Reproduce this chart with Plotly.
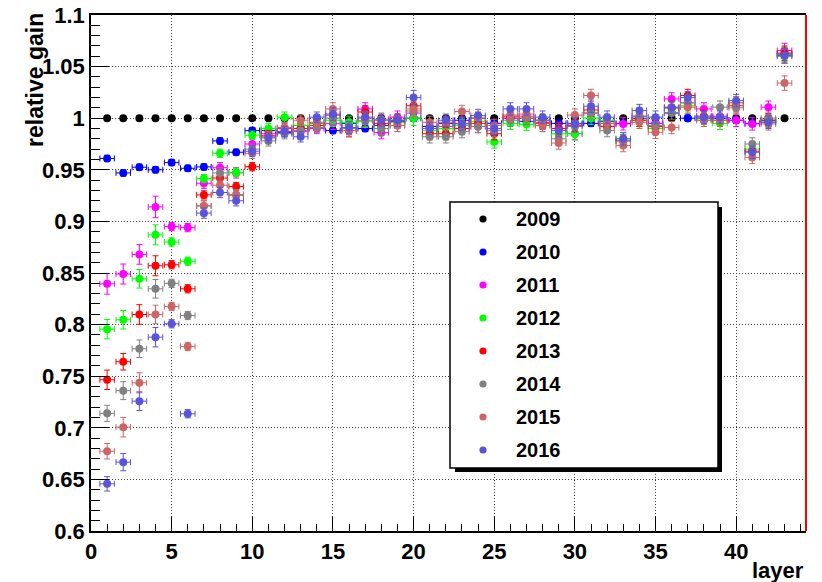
import plotly.graph_objects as go

# ---------------- data ----------------
layers = list(range(1, 44))
years = ["2009", "2010", "2011", "2012", "2013", "2014", "2015", "2016"]

gain_2009 = [1.0, 1.0, 1.0, 1.0, 1.0, 1.0, 1.0, 1.0, 1.0, 1.0,
             1.0, 1.0, 1.0, 1.0, 1.0, 1.0, 1.0, 1.0, 1.0, 1.0,
             1.0, 1.0, 1.0, 1.0, 1.0, 1.0, 1.0, 1.0, 1.0, 1.0,
             1.0, 1.0, 1.0, 1.0, 1.0, 1.0, 1.0, 1.0, 1.0, 1.0,
             1.0, 1.0, 1.0]
gain_2010 = [0.961, 0.947, 0.9525, 0.950, 0.957, 0.9515, 0.9528, 0.978, 0.967, 0.988,
             0.988, 0.986, 0.990, 0.995, 0.988, 0.995, 0.990, 0.993, 0.997, 1.000,
             0.992, 0.995, 0.998, 1.000, 0.995, 1.000, 0.997, 0.998, 0.995, 0.995,
             0.995, 0.997, 0.995, 1.000, 0.995, 1.005, 1.000, 1.000, 1.000, 0.998,
             0.995, 0.998, 1.062]
gain_2011 = [0.8395, 0.849, 0.868, 0.914, 0.895, 0.894, 0.937, 0.952, 0.947, 0.975,
             0.985, 0.990, 0.987, 0.990, 0.995, 0.990, 1.009, 0.986, 1.001, 1.005,
             0.990, 0.992, 0.995, 0.992, 0.990, 1.000, 1.002, 0.995, 0.990, 0.985,
             1.005, 0.995, 0.9945, 1.002, 0.995, 1.0187, 1.015, 1.009, 1.002, 0.998,
             0.9945, 1.0107, 1.0656]
gain_2012 = [0.7956, 0.8047, 0.8444, 0.887, 0.880, 0.8614, 0.9415, 0.966, 0.9474, 0.9835,
             0.990, 1.001, 0.993, 0.995, 0.998, 0.996, 0.997, 0.990, 0.996, 1.000,
             0.988, 0.990, 0.993, 0.997, 0.977, 0.995, 0.994, 0.993, 0.985, 0.985,
             1.000, 0.998, 0.980, 0.998, 0.990, 1.010, 1.012, 0.998, 0.995, 1.015,
             0.970, 0.997, 1.062]
gain_2013 = [0.7465, 0.764, 0.8098, 0.857, 0.858, 0.8347, 0.9257, 0.942, 0.9338, 0.953,
             0.983, 0.987, 0.990, 0.993, 1.003, 0.988, 1.006, 0.995, 0.998, 1.012,
             0.985, 0.985, 0.990, 0.995, 0.985, 1.002, 1.000, 0.996, 0.990, 0.993,
             1.008, 0.992, 0.978, 0.998, 0.992, 1.010, 1.022, 1.002, 0.998, 1.012,
             0.968, 0.998, 1.063]
gain_2014 = [0.714, 0.736, 0.7766, 0.8347, 0.840, 0.8088, 0.915, 0.947, 0.926, 0.970,
             0.978, 0.985, 0.988, 0.991, 1.000, 0.990, 0.998, 0.990, 0.993, 1.007,
             0.982, 0.982, 0.987, 0.992, 0.988, 0.998, 1.000, 0.998, 0.980, 0.992,
             1.005, 0.988, 0.978, 1.002, 0.993, 1.005, 1.015, 1.000, 1.0107, 1.010,
             0.975, 1.000, 1.060]
gain_2015 = [0.6773, 0.7006, 0.7436, 0.8098, 0.8175, 0.7788, 0.915, 0.935, 0.925, 0.966,
             0.982, 0.991, 0.998, 0.996, 1.009, 0.988, 1.000, 0.999, 0.993, 1.009,
             0.996, 0.996, 1.0065, 1.000, 0.993, 1.003, 1.004, 0.993, 0.976, 1.003,
             1.022, 0.995, 0.9735, 0.996, 0.9864, 0.991, 1.0107, 0.998, 0.998, 1.015,
             0.962, 0.9945, 1.034]
gain_2016 = [0.6457, 0.6667, 0.7258, 0.7878, 0.8008, 0.7136, 0.908, 0.928, 0.920, 0.968,
             0.981, 0.987, 0.982, 1.001, 1.004, 0.991, 1.001, 0.998, 0.998, 1.020,
             0.990, 0.998, 0.9945, 1.0026, 0.990, 1.009, 1.009, 1.001, 0.988, 0.9945,
             1.0116, 1.001, 0.980, 1.0074, 1.001, 1.0107, 1.020, 1.001, 1.001, 1.017,
             0.967, 0.996, 1.0607]

# y uncertainties (layers 1-10 read individually, 11-43 typical size)
err_late = [0.005, 0.005, 0.005, 0.005, 0.006, 0.006, 0.006, 0.006, 0.006, 0.007,
            0.006, 0.006, 0.006, 0.006, 0.006, 0.006, 0.006, 0.006, 0.006, 0.006,
            0.006, 0.006, 0.006, 0.006, 0.006, 0.006, 0.006, 0.006, 0.006, 0.006,
            0.006, 0.006, 0.007]
err_2010 = [0.003] * 43
err_2011 = [0.010, 0.0097, 0.0095, 0.0104, 0.004, 0.004, 0.005, 0.005, 0.005, 0.005] + err_late
err_2012 = [0.0094, 0.009, 0.009, 0.0097, 0.004, 0.004, 0.004, 0.004, 0.004, 0.004] + err_late
err_2013 = [0.0094, 0.008, 0.0095, 0.0097, 0.004, 0.004, 0.004, 0.004, 0.004, 0.004] + err_late
err_2014 = [0.0078, 0.0087, 0.0085, 0.009, 0.004, 0.004, 0.005, 0.005, 0.005, 0.005] + err_late
err_2015 = [0.0075, 0.0095, 0.0097, 0.009, 0.004, 0.004, 0.005, 0.005, 0.005, 0.005] + err_late
err_2016 = [0.007, 0.0083, 0.009, 0.0094, 0.004, 0.004, 0.005, 0.005, 0.005, 0.005] + err_late
layer_half_width = 0.45

y_tickvals = [0.6, 0.65, 0.7, 0.75, 0.8, 0.85, 0.9, 0.95, 1.0, 1.05, 1.1]
y_ticktext = ["0.6", "0.65", "0.7", "0.75", "0.8", "0.85", "0.9", "0.95", "1", "1.05", "1.1"]
x_tickvals = [0, 5, 10, 15, 20, 25, 30, 35, 40]
x_ticktext = ["0", "5", "10", "15", "20", "25", "30", "35", "40"]

# ---------------- style ----------------
colors = ["#000000", "#0000ff", "#ff00ff", "#00ff00", "#ff0000",
          "#808080", "#cc6666", "#5a55d8"]
series = [gain_2009, gain_2010, gain_2011, gain_2012, gain_2013,
          gain_2014, gain_2015, gain_2016]
errors = [None, err_2010, err_2011, err_2012, err_2013, err_2014, err_2015, err_2016]

W, H = 822, 582
ML, MR, MT, MB = 91, 16, 15, 51
PW, PH = W - ML - MR, H - MT - MB
FONT = "Liberation Sans, Arial, Helvetica, sans-serif"


def px(xp):
    return (xp - ML) / PW


def py(yp):
    return (H - MB - yp) / PH


fig = go.Figure()
for yr, vals, err, col in zip(years, series, errors, colors):
    kw = {}
    if err is not None:
        kw["error_x"] = dict(type="constant", value=layer_half_width, color=col,
                             thickness=1, width=3)
        kw["error_y"] = dict(type="data", array=err, color=col, thickness=1, width=3)
    fig.add_trace(go.Scatter(
        x=layers, y=vals, mode="markers", name=yr,
        marker=dict(color=col, size=8, line=dict(width=0)),
        showlegend=False, **kw))

axis_common = dict(
    showline=True, linecolor="black", linewidth=1.5,
    ticks="inside", tickcolor="black", tickwidth=1,
    showgrid=True, gridcolor="#444444", gridwidth=1, griddash="1px,2px",
    zeroline=False, automargin=False,
    tickfont=dict(family=FONT, size=22, color="black", weight="bold"),
)

fig.update_xaxes(
    range=[0, 44.33], tickmode="array", tickvals=x_tickvals, ticktext=x_ticktext,
    ticklen=15, mirror=True,
    minor=dict(dtick=1, ticklen=7, ticks="inside", tickcolor="black", showgrid=False),
    **axis_common)
fig.update_yaxes(
    range=[0.6, 1.1], tickmode="array", tickvals=y_tickvals, ticktext=y_ticktext,
    ticklen=18,
    minor=dict(dtick=0.01, tick0=0.6, ticklen=9, ticks="inside", tickcolor="black",
               showgrid=False),
    **axis_common)

shapes = []
# right red frame edge
shapes.append(dict(type="line", xref="paper", yref="paper", x0=1, x1=1, y0=0, y1=1,
                   line=dict(color="#ff0000", width=2), layer="above"))
# legend shadow & box
shapes.append(dict(type="rect", xref="paper", yref="paper",
                   x0=px(455), x1=px(722), y0=py(472), y1=py(207),
                   fillcolor="black", line=dict(width=0), layer="above"))
shapes.append(dict(type="rect", xref="paper", yref="paper",
                   x0=px(450), x1=px(718), y0=py(468), y1=py(202),
                   fillcolor="white", line=dict(color="black", width=1.5), layer="above"))
annotations = []
r = 3.6
for i, (yr, col) in enumerate(zip(years, colors)):
    cy = 219 + i * 33
    cx = 483
    shapes.append(dict(type="circle", xref="paper", yref="paper",
                       x0=px(cx - r), x1=px(cx + r), y0=py(cy + r), y1=py(cy - r),
                       fillcolor=col, line=dict(width=0), layer="above"))
    annotations.append(dict(text=yr, xref="paper", yref="paper", x=px(514), y=py(cy),
                            xanchor="left", yanchor="middle", showarrow=False,
                            font=dict(family=FONT, size=20, color="black", weight="bold")))

# axis titles
annotations.append(dict(text="layer", xref="paper", yref="paper", x=1.0, y=py(570),
                        xanchor="right", yanchor="middle", showarrow=False,
                        font=dict(family=FONT, size=22, color="black", weight="bold")))
annotations.append(dict(text="relative gain", xref="paper", yref="paper", x=px(35),
                        y=py(11), xanchor="center", yanchor="top", textangle=-90,
                        showarrow=False,
                        font=dict(family=FONT, size=23, color="black", weight="bold")))

fig.update_layout(
    width=W, height=H,
    margin=dict(l=ML, r=MR, t=MT, b=MB),
    paper_bgcolor="white", plot_bgcolor="white",
    shapes=shapes, annotations=annotations,
    showlegend=False,
)

fig.write_html("out.html")
